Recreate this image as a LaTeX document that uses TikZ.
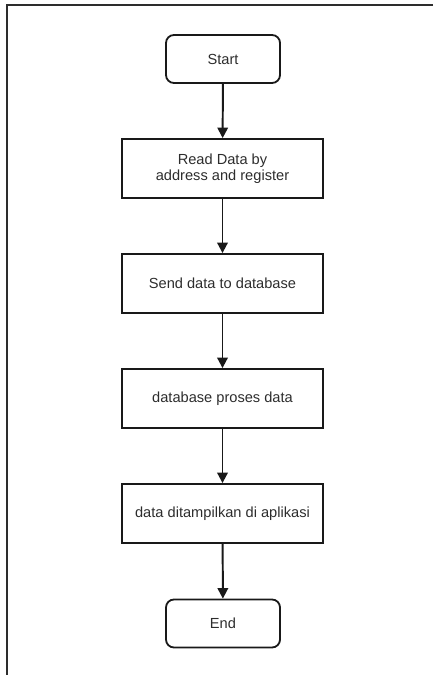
\documentclass[tikz,border=0pt]{standalone}
\usepackage{fontspec}
\setmainfont{Liberation Sans}
\usepackage{xcolor}
\usetikzlibrary{positioning,arrows.meta,shapes.geometric}
\definecolor{flowline}{RGB}{25,25,25}
\definecolor{flowtext}{RGB}{45,45,45}
\definecolor{framegray}{RGB}{45,45,45}
\tikzset{
  process-node/.style={draw=flowline, line width=1.3pt, minimum width=5.025cm,
    minimum height=1.475cm, font=\fontsize{10.4pt}{11.6pt}\selectfont, text=flowtext,
    align=center, inner sep=2pt},
  terminal-node/.style={draw=flowline, line width=1.3pt, rounded corners=0.2cm,
    minimum width=2.85cm, minimum height=1.2cm, font=\fontsize{10.4pt}{11.6pt}\selectfont,
    text=flowtext, align=center, inner sep=2pt},
  flow-arrow/.style={-{Triangle[length=7.5pt,width=7.5pt]}, line width=1.4pt, draw=flowline},
  frame-line/.style={draw=framegray, line width=1.4pt}
}
\begin{document}
\begin{tikzpicture}[x=0.025cm,y=-0.025cm]
\useasboundingbox (0,0) rectangle (433,675);
% page frame
\coordinate (fr1) at (433,5);
\coordinate (fr2) at (7,5);
\coordinate (fr3) at (7,675);
\draw[frame-line] (fr1) -- (fr2) -- (fr3);
% flow
\node[terminal-node] (start) at (223,59) {Start};
\node[process-node] (read) at (222.5,168.5) {Read Data by\\address and register};
\node[process-node] (send) at (222.5,283.5) {Send data to database};
\node[process-node] (proses) at (222.5,398.5) {database proses data};
\node[process-node] (tampil) at (222.5,513.5) {data ditampilkan di aplikasi};
\node[terminal-node] (finish) at (223,623.5) {End};
\foreach \a/\b in {start/read, read/send, send/proses, proses/tampil, tampil/finish}{
  \draw[flow-arrow] (\a) -- (\b);
}
\end{tikzpicture}
\end{document}
